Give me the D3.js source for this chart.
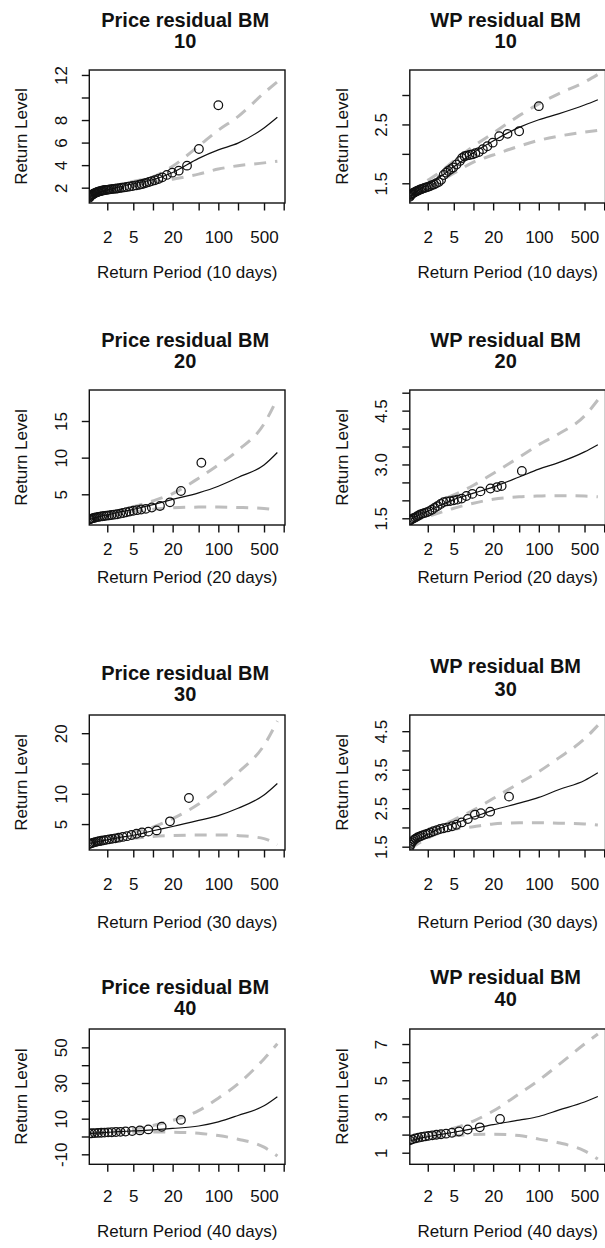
<!DOCTYPE html>
<html>
<head>
<meta charset="utf-8">
<script src="https://cdn.jsdelivr.net/npm/d3@7"></script>
<style>
  html, body { margin: 0; padding: 0; background: #fff; }
  svg { display: block; font-family: "Liberation Sans", Arial, Helvetica, sans-serif; }
</style>
</head>
<body>
<svg id="chart" width="605" height="1248"></svg>
<script>
// ---- shared axis values -------------------------------------------------
const periodTicks = [2, 5, 10, 20, 50, 100, 200, 500, 1000];
const periodLabels = [2, 5, 20, 100, 500];
const periodDomain = [1.062, 1047];
const curvePeriods = [1.1, 1.5, 2, 3, 5, 10, 20, 50, 100, 200, 500, 800];
const blockSizes = [10, 20, 30, 40];
const seriesNames = ["Price", "WP"];

// ---- Price residual, 10-day blocks --------------------------------------
const price10Points = [[1.06,1.10],[1.08,1.18],[1.10,1.25],[1.13,1.30],[1.16,1.35],[1.19,1.40],[1.22,1.44],[1.26,1.48],[1.30,1.52],[1.34,1.56],[1.39,1.60],[1.44,1.63],[1.50,1.66],[1.56,1.69],[1.63,1.72],[1.70,1.75],[1.78,1.77],[1.87,1.79],[1.97,1.81],[2.08,1.83],[2.20,1.85],[2.33,1.87],[2.48,1.89],[2.65,1.91],[2.84,1.93],[3.06,1.96],[3.31,1.99],[3.61,2.02],[3.96,2.06],[4.38,2.10],[4.89,2.15],[5.52,2.20],[6.2,2.26],[6.7,2.31],[7.3,2.37],[7.9,2.43],[8.7,2.50],[9.6,2.58],[10.7,2.66],[12.1,2.77],[13.9,2.92],[16.3,3.13],[19.7,3.33],[24.8,3.51],[33.2,3.95],[50.5,5.43],[100,9.31]];
const price10Fit   = [1.20, 1.58, 1.80, 2.05, 2.35, 2.70, 3.35, 4.60, 5.35, 5.95, 7.30, 8.25];
const price10Lower = [1.05, 1.45, 1.65, 1.90, 2.15, 2.45, 2.75, 3.20, 3.65, 3.95, 4.20, 4.35];
const price10Upper = [1.35, 1.72, 1.95, 2.20, 2.55, 2.95, 3.90, 5.70, 7.10, 8.30, 10.40, 11.40];

// ---- WP residual, 10-day blocks -----------------------------------------
const wp10Points = [[1.06,1.27],[1.08,1.29],[1.11,1.31],[1.14,1.32],[1.18,1.33],[1.22,1.34],[1.27,1.35],[1.32,1.36],[1.38,1.37],[1.44,1.38],[1.51,1.39],[1.59,1.40],[1.68,1.41],[1.78,1.42],[1.89,1.43],[2.01,1.44],[2.15,1.45],[2.31,1.47],[2.49,1.48],[2.7,1.50],[2.94,1.52],[3.2,1.56],[3.5,1.64],[3.8,1.68],[4.1,1.71],[4.5,1.74],[4.9,1.77],[5.5,1.82],[6.2,1.88],[6.7,1.93],[7.3,1.96],[7.9,1.97],[8.7,1.98],[9.6,1.99],[10.7,2.01],[12.1,2.03],[13.9,2.08],[16.3,2.13],[19.7,2.19],[24.8,2.30],[33.2,2.34],[50,2.385],[100,2.81]];
const wp10Fit   = [1.28, 1.40, 1.48, 1.60, 1.78, 2.02, 2.22, 2.45, 2.58, 2.68, 2.83, 2.92];
const wp10Lower = [1.23, 1.34, 1.42, 1.53, 1.67, 1.86, 1.98, 2.13, 2.23, 2.30, 2.37, 2.40];
const wp10Upper = [1.33, 1.46, 1.55, 1.68, 1.88, 2.13, 2.35, 2.65, 2.85, 3.02, 3.22, 3.35];

// ---- Price residual, 20-day blocks --------------------------------------
const price20Points = [[1.06,1.55],[1.1,1.62],[1.15,1.68],[1.21,1.74],[1.28,1.80],[1.36,1.86],[1.45,1.91],[1.55,1.96],[1.67,2.0],[1.8,2.04],[1.95,2.08],[2.12,2.12],[2.32,2.17],[2.55,2.22],[2.83,2.28],[3.15,2.36],[3.5,2.45],[3.9,2.55],[4.4,2.65],[5.0,2.75],[5.7,2.83],[6.6,2.92],[7.8,3.02],[9.6,3.2],[12.8,3.4],[18.2,3.9],[26.8,5.45],[55,9.31]];
const price20Fit   = [1.60, 1.95, 2.20, 2.55, 2.95, 3.60, 4.30, 5.20, 6.10, 7.30, 9.00, 10.70];
const price20Lower = [1.45, 1.75, 1.98, 2.30, 2.60, 2.95, 3.15, 3.25, 3.25, 3.20, 3.05, 2.85];
const price20Upper = [1.80, 2.15, 2.40, 2.80, 3.30, 4.10, 5.10, 7.20, 9.00, 11.00, 14.60, 18.10];

// ---- WP residual, 20-day blocks -----------------------------------------
const wp20Points = [[1.06,1.44],[1.1,1.46],[1.15,1.48],[1.21,1.50],[1.28,1.52],[1.36,1.55],[1.45,1.58],[1.55,1.61],[1.67,1.63],[1.8,1.65],[1.95,1.67],[2.12,1.70],[2.32,1.74],[2.55,1.79],[2.83,1.84],[3.15,1.90],[3.5,1.95],[3.9,1.97],[4.4,1.98],[5.0,2.0],[5.7,2.02],[6.6,2.05],[7.8,2.12],[9.6,2.18],[12.8,2.25],[18.2,2.33],[23,2.37],[27,2.40],[55,2.82]];
const wp20Fit   = [1.47, 1.60, 1.70, 1.85, 2.02, 2.20, 2.37, 2.65, 2.87, 3.05, 3.35, 3.55];
const wp20Lower = [1.40, 1.48, 1.55, 1.65, 1.78, 1.92, 2.03, 2.10, 2.12, 2.13, 2.12, 2.10];
const wp20Upper = [1.55, 1.70, 1.80, 1.98, 2.15, 2.42, 2.75, 3.20, 3.55, 3.85, 4.35, 4.80];

// ---- Price residual, 30-day blocks --------------------------------------
const price30Points = [[1.06,1.7],[1.1,1.78],[1.16,1.86],[1.23,1.94],[1.31,2.02],[1.4,2.1],[1.5,2.18],[1.62,2.25],[1.76,2.32],[1.93,2.4],[2.13,2.48],[2.37,2.56],[2.66,2.65],[3.0,2.75],[3.45,2.88],[4.0,3.0],[4.7,3.2],[5.6,3.4],[6.8,3.6],[8.5,3.75],[11.4,3.95],[18.2,5.45],[35.5,9.31]];
const price30Fit   = [1.80, 2.15, 2.40, 2.75, 3.15, 3.90, 4.60, 5.60, 6.40, 7.60, 9.80, 11.70];
const price30Lower = [1.60, 1.90, 2.10, 2.40, 2.65, 2.95, 3.10, 3.20, 3.20, 3.10, 2.60, 1.60];
const price30Upper = [2.00, 2.40, 2.70, 3.10, 3.70, 4.50, 5.90, 8.30, 10.70, 13.50, 18.00, 22.00];

// ---- WP residual, 30-day blocks -----------------------------------------
const wp30Points = [[1.06,1.50],[1.09,1.55],[1.13,1.60],[1.18,1.64],[1.24,1.68],[1.31,1.71],[1.39,1.74],[1.48,1.76],[1.58,1.78],[1.7,1.80],[1.84,1.82],[2.0,1.84],[2.2,1.87],[2.45,1.90],[2.75,1.93],[3.1,1.96],[3.5,1.98],[4.0,2.0],[4.7,2.03],[5.5,2.07],[6.6,2.13],[8.2,2.22],[10.5,2.33],[13,2.37],[18,2.41],[35,2.80]];
const wp30Fit   = [1.55, 1.72, 1.82, 1.97, 2.10, 2.27, 2.45, 2.63, 2.78, 2.98, 3.22, 3.42];
const wp30Lower = [1.45, 1.60, 1.72, 1.85, 1.95, 2.02, 2.09, 2.12, 2.12, 2.11, 2.09, 2.06];
const wp30Upper = [1.62, 1.78, 1.88, 2.03, 2.20, 2.45, 2.75, 3.15, 3.45, 3.80, 4.30, 4.65];

// ---- Price residual, 40-day blocks --------------------------------------
const price40Points = [[1.06,1.7],[1.16,1.8],[1.29,1.9],[1.44,2.0],[1.62,2.1],[1.82,2.2],[2.06,2.3],[2.35,2.4],[2.72,2.5],[3.19,2.6],[3.81,2.8],[4.8,3.1],[6.3,3.4],[8.5,3.95],[13.6,5.45],[26.8,9.31]];
const price40Fit   = [1.70, 2.00, 2.30, 2.70, 3.10, 3.70, 4.50, 5.90, 8.20, 11.80, 17.20, 22.30];
const price40Lower = [1.60, 1.80, 2.00, 2.20, 2.40, 2.50, 2.40, 1.80, 0.50, -1.50, -6.00, -11.00];
const price40Upper = [1.80, 2.20, 2.60, 3.20, 4.20, 6.20, 9.00, 14.50, 21.50, 29.50, 43.50, 52.00];

// ---- WP residual, 40-day blocks -----------------------------------------
const wp40Points = [[1.06,1.68],[1.16,1.74],[1.29,1.79],[1.44,1.83],[1.62,1.87],[1.82,1.90],[2.06,1.93],[2.35,1.96],[2.72,1.99],[3.19,2.02],[3.81,2.05],[4.68,2.10],[5.99,2.17],[8.16,2.28],[12.5,2.40],[25.5,2.86]];
const wp40Fit   = [1.67, 1.80, 1.88, 2.00, 2.13, 2.33, 2.55, 2.80, 3.00, 3.35, 3.80, 4.10];
const wp40Lower = [1.60, 1.72, 1.78, 1.85, 1.93, 2.00, 2.02, 1.95, 1.75, 1.55, 1.10, 0.65];
const wp40Upper = [1.73, 1.90, 2.00, 2.15, 2.35, 2.75, 3.30, 4.25, 5.00, 5.85, 7.00, 7.55];

// ---- return-level axis ticks and limits per panel -----------------------
const levelTicks = [
  [2, 4, 6, 8, 10, 12], [1.5, 2, 2.5, 3],
  [5, 10, 15], [1.5, 2, 2.5, 3, 3.5, 4, 4.5, 5],
  [5, 10, 15, 20], [1.5, 2, 2.5, 3, 3.5, 4, 4.5],
  [-10, 0, 10, 20, 30, 40, 50], [1, 2, 3, 4, 5, 6, 7]
];
const levelLabels = [
  ["2", "4", "6", "8", "", "12"], ["1.5", "", "2.5", ""],
  ["5", "10", "15"], ["1.5", "", "", "3.0", "", "", "4.5", ""],
  ["5", "10", "", "20"], ["1.5", "", "2.5", "", "3.5", "", "4.5"],
  ["-10", "", "10", "", "30", "", "50"], ["1", "", "3", "", "5", "", "7"]
];
const levelDomains = [
  [0.64, 12.44], [1.165, 3.425],
  [0.81, 19.23], [1.313, 5.075],
  [0.72, 23.0], [1.414, 4.92],
  [-15.6, 60.3], [0.36, 7.83]
];

const panelSeries = [
  [price10Points, price10Fit, price10Lower, price10Upper],
  [wp10Points, wp10Fit, wp10Lower, wp10Upper],
  [price20Points, price20Fit, price20Lower, price20Upper],
  [wp20Points, wp20Fit, wp20Lower, wp20Upper],
  [price30Points, price30Fit, price30Lower, price30Upper],
  [wp30Points, wp30Fit, wp30Lower, wp30Upper],
  [price40Points, price40Fit, price40Lower, price40Upper],
  [wp40Points, wp40Fit, wp40Lower, wp40Upper]
];

// ---- page layout ---------------------------------------------------------
const colOffset = [0, 320.5];
const boxLeft = 89.3, boxRight = 285;
const rowLayout = [
  { top: 70,   bottom: 203,    title: [[26.6, 47.6], [26.6, 47.6]],   tick: 242.7,  xlab: 278.3 },
  { top: 390,  bottom: 525,    title: [[346.8, 367.8], [346.8, 367.8]], tick: 555,  xlab: 583.3 },
  { top: 715,  bottom: 850,    title: [[680.2, 701.2], [673, 696]],   tick: 890,    xlab: 928.3 },
  { top: 1029, bottom: 1164.3, title: [[994.2, 1015.2], [983.5, 1005.5]], tick: 1201.7, xlab: 1236.7 }
];
const titleSize = 20;
const ink = "#111";
const ciGray = "#bebebe";

const svg = d3.select("#chart");

panelSeries.forEach((series, i) => {
  const row = Math.floor(i / 2), col = i % 2;
  const L = rowLayout[row];
  const ox = colOffset[col];
  const [pts, fit, lower, upper] = series;

  const x = d3.scaleLog().domain(periodDomain).range([boxLeft + ox, boxRight + ox]);
  const y = d3.scaleLinear().domain(levelDomains[i]).range([L.bottom, L.top]);

  const g = svg.append("g").attr("class", "panel");
  const clipId = "plot-clip-" + i;
  g.append("clipPath").attr("id", clipId)
    .append("rect")
    .attr("x", x.range()[0]).attr("y", L.top)
    .attr("width", x.range()[1] - x.range()[0]).attr("height", L.bottom - L.top);

  const plot = g.append("g").attr("clip-path", `url(#${clipId})`);
  const line = d3.line().x(d => x(d[0])).y(d => y(d[1])).curve(d3.curveMonotoneX);
  const asPairs = vals => curvePeriods.map((t, k) => [t, vals[k]]);

  // confidence bounds
  [lower, upper].forEach(vals => {
    plot.append("path")
      .datum(asPairs(vals))
      .attr("d", line)
      .attr("fill", "none")
      .attr("stroke", ciGray)
      .attr("stroke-width", 3)
      .attr("stroke-dasharray", "12,9");
  });

  // fitted return level curve
  plot.append("path")
    .datum(asPairs(fit))
    .attr("d", line)
    .attr("fill", "none")
    .attr("stroke", ink)
    .attr("stroke-width", 1.2);

  // empirical return levels
  plot.selectAll("circle")
    .data(pts)
    .join("circle")
    .attr("cx", d => x(d[0]))
    .attr("cy", d => y(d[1]))
    .attr("r", 4.3)
    .attr("fill", "none")
    .attr("stroke", ink)
    .attr("stroke-width", 1.25);

  // plot frame
  g.append("rect")
    .attr("x", x.range()[0]).attr("y", L.top)
    .attr("width", x.range()[1] - x.range()[0]).attr("height", L.bottom - L.top)
    .attr("fill", "none").attr("stroke", ink).attr("stroke-width", 1.4);

  // period axis
  const xAxis = d3.axisBottom(x)
    .tickValues(periodTicks)
    .tickSize(7.5)
    .tickSizeOuter(0)
    .tickFormat(d => periodLabels.includes(d) ? String(d) : "");
  const xg = g.append("g").attr("transform", `translate(0,${L.bottom})`).call(xAxis);
  xg.select(".domain").remove();
  xg.selectAll(".tick line").attr("stroke", ink).attr("stroke-width", 1.4);
  xg.selectAll(".tick text")
    .attr("y", L.tick - L.bottom).attr("dy", null)
    .attr("fill", ink).attr("font-size", 17)
    .attr("font-family", "Liberation Sans, Arial, sans-serif");

  // level axis
  const labels = levelLabels[i];
  const ticks = levelTicks[i];
  const yAxis = d3.axisLeft(y)
    .tickValues(ticks)
    .tickSize(7.5)
    .tickSizeOuter(0)
    .tickFormat((d, k) => labels[k]);
  const yg = g.append("g").attr("transform", `translate(${x.range()[0]},0)`).call(yAxis);
  yg.select(".domain").remove();
  yg.selectAll(".tick line").attr("stroke", ink).attr("stroke-width", 1.4);
  yg.selectAll(".tick text")
    .attr("x", 0).attr("y", 66.7 - boxLeft).attr("dy", null)
    .attr("transform", "rotate(-90)")
    .attr("text-anchor", "middle")
    .attr("fill", ink).attr("font-size", 17)
    .attr("font-family", "Liberation Sans, Arial, sans-serif");

  const cx = (x.range()[0] + x.range()[1]) / 2;

  // axis titles
  g.append("text")
    .attr("x", cx).attr("y", L.xlab)
    .attr("text-anchor", "middle")
    .attr("font-size", 17).attr("fill", ink)
    .text(`Return Period (${blockSizes[row]} days)`);

  g.append("text")
    .attr("transform", `translate(${27.3 + ox},${(L.top + L.bottom) / 2}) rotate(-90)`)
    .attr("text-anchor", "middle")
    .attr("font-size", 17).attr("fill", ink)
    .text("Return Level");

  // panel title: one text element set on two lines
  const [t1, t2] = L.title[col];
  const title = g.append("text")
    .attr("text-anchor", "middle")
    .attr("font-size", titleSize).attr("font-weight", "bold").attr("fill", ink);
  title.append("tspan")
    .attr("x", cx - 2).attr("y", t1)
    .text(`${seriesNames[col]} residual BM`);
  title.append("tspan")
    .attr("x", cx - 2).attr("y", t2)
    .text(String(blockSizes[row]));
});
</script>
</body>
</html>
